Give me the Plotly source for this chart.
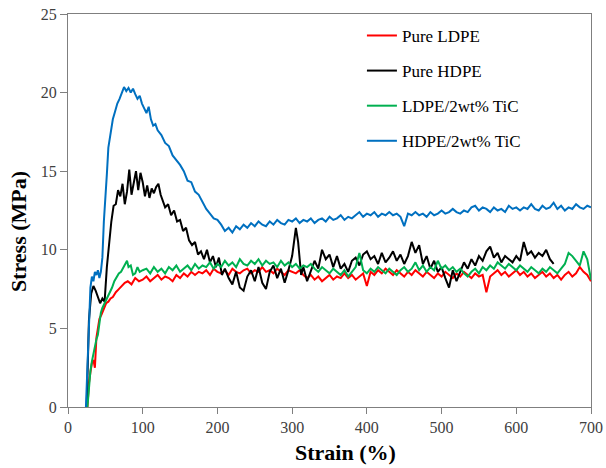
import plotly.graph_objects as go

# ---------------- data ----------------
# HDPE/2wt% TiC (blue)
hdpe_tic_x_head = [24, 27, 30, 32, 34, 36, 38, 40, 42, 44, 46, 48, 50, 52, 54, 56, 58, 60, 63, 66,
                   69, 72, 75, 78, 81, 84, 87, 90, 93, 96, 99, 102, 105, 108, 111, 114, 117, 120, 125, 130,
                   135, 140, 145, 150, 155, 160, 165, 170, 175, 180, 185, 190, 195, 200, 205, 210, 215, 220, 225, 230]
hdpe_tic_y_head = [0, 4.5, 7.6, 8.3, 8.0, 8.6, 8.4, 8.7, 8.2, 8.6, 9.5, 11.8, 13.8, 14.8, 16.5, 17.2, 17.6, 18.3, 18.8, 19.3,
                   19.6, 20.0, 20.35, 20.1, 20.3, 20.0, 20.25, 19.9, 19.6, 19.8, 19.3, 19.0, 18.7, 19.1, 18.3, 17.9, 18.0, 17.6, 17.3, 16.8,
                   16.6, 16.0, 15.7, 15.4, 15.0, 14.4, 14.3, 13.7, 13.5, 13.0, 12.6, 12.3, 12.0, 11.9, 11.6, 11.2, 11.4, 11.1, 11.5, 11.3]
hdpe_tic_y_tail = [11.6, 11.4, 11.7, 11.5, 11.8, 11.6, 11.5, 11.8, 11.6, 11.9,   # 235-280
                   11.7, 11.6, 11.9, 11.8, 12.0, 11.7, 11.9, 11.8, 12.0, 11.7,   # 285-330
                   11.9, 12.0, 11.8, 12.1, 11.9, 12.0, 12.2, 11.9, 12.1, 12.0,   # 335-380
                   12.2, 12.4, 12.1, 12.3, 12.2, 12.4, 12.1, 12.3, 12.2, 12.4,   # 385-430
                   12.2, 12.3, 12.1, 11.5, 12.3, 12.2, 12.4, 12.2, 12.3, 12.1,   # 435-480
                   12.4, 12.2, 12.3, 12.5, 12.3, 12.4, 12.6, 12.4, 12.3, 12.5,   # 485-530
                   12.4, 12.7, 12.8, 12.5, 12.7, 12.6, 12.4, 12.7, 12.5, 12.6,   # 535-580
                   12.4, 12.8, 12.6, 12.7, 12.5, 12.7, 12.6, 12.9, 12.6, 12.5,   # 585-630
                   12.8, 12.6, 12.7, 13.0, 12.6, 12.8, 12.5, 12.7, 12.6, 12.9,   # 635-680
                   12.7, 12.6, 12.8, 12.7]                                       # 685-700

# Pure HDPE (black)
hdpe_x_head = [25, 28, 31, 34, 37, 40, 43, 46, 49, 52, 55, 58, 61, 64, 67, 70, 73, 76, 79, 82,
               85, 88, 91, 94, 97, 100, 103, 106, 109, 112, 115, 118, 121, 124, 127, 130, 134, 138, 142, 146,
               150, 154, 158, 162, 166, 170, 174, 178, 182, 186, 190, 194, 198, 202, 206, 210, 215, 220, 225, 230,
               235, 240, 245, 250, 255, 260, 265, 270, 275, 280, 285, 290, 295, 300, 305, 308, 312]
hdpe_y_head = [0, 5.5, 7.2, 7.7, 7.4, 7.0, 6.6, 6.9, 6.7, 8.9, 10.5, 11.8, 12.8, 12.9, 13.8, 13.4, 14.2, 12.9, 13.7, 15.1,
               13.5, 14.3, 15.0, 13.8, 14.9, 14.3, 13.4, 14.1, 13.3, 13.9, 13.6, 14.0, 14.2, 13.5, 13.1, 12.7, 12.9, 12.2, 12.5, 11.8,
               11.9, 11.2, 11.4, 10.6, 10.3, 10.5, 9.7, 9.9, 9.4, 10.0, 9.2, 9.6, 8.9, 9.5, 8.4, 8.8, 8.2, 7.8, 8.6, 7.6,
               7.4, 8.3, 8.7, 8.0, 8.9, 7.9, 7.5, 8.6, 9.0, 8.2, 8.8, 7.9, 8.7, 9.6, 11.4, 10.5, 8.4]
hdpe_y_tail = [8.9, 8.0, 8.6, 9.3, 8.8, 10.0, 9.4, 9.7, 8.9, 9.6,   # 315-360
               8.8, 9.1, 8.6, 9.3, 9.5, 9.0, 9.7, 9.9, 9.4, 9.6,     # 365-410
               9.1, 9.8, 9.2, 9.5, 9.9, 9.3, 9.7, 9.1, 9.6, 10.5,    # 415-460
               9.8, 10.3, 9.1, 9.6, 8.8, 9.3, 8.6, 8.9, 8.2, 7.6,    # 465-510
               8.7, 8.0, 8.6, 9.2, 8.8, 9.4, 9.0, 9.6, 9.3, 9.9,     # 515-560
               10.2, 9.5, 9.8, 9.2, 9.6, 9.4, 9.2, 9.6, 9.3, 10.5,   # 565-610
               9.7, 9.9, 9.5, 9.8, 9.6, 10.0, 9.4, 9.1]              # 615-650

# LDPE/2wt% TiC (green)
ldpe_tic_x_head = [26, 28, 30, 32, 34, 36, 38, 40, 42, 44, 46, 48, 50, 53, 56, 59, 62, 65, 68, 71,
                   74, 77, 79, 81, 84, 87, 90, 93, 96, 100, 105]
ldpe_tic_y_head = [0, 1.5, 2.3, 2.9, 3.4, 3.8, 4.3, 4.6, 5.3, 6.0, 6.3, 6.5, 6.6, 6.9, 7.2, 7.6, 8.0, 8.3, 8.5, 8.6,
                   8.9, 9.2, 9.3, 8.9, 9.0, 8.4, 8.5, 8.9, 8.6, 8.7, 8.8]
ldpe_tic_y_tail = [8.5, 8.9, 8.6, 8.8, 8.5, 8.9, 8.7, 9.0, 8.6, 8.8,   # 110-155
                   9.0, 8.7, 9.1, 8.8, 9.0, 8.9, 9.2, 8.8, 9.1, 8.9,   # 160-205
                   9.3, 9.0, 9.2, 8.9, 9.4, 9.1, 9.0, 9.3, 9.1, 9.4,   # 210-255
                   9.0, 9.3, 9.1, 9.2, 8.9, 9.3, 9.0, 9.2, 8.9, 9.1,   # 260-305
                   8.8, 9.0, 8.9, 9.1, 8.8, 8.6, 8.9, 8.7, 8.5, 8.8,   # 310-355
                   8.6, 8.4, 8.7, 8.3, 8.6, 8.9, 9.8, 8.7, 8.5, 8.8,   # 360-405
                   8.6, 8.9, 8.7, 8.5, 8.8, 8.6, 8.4, 8.7, 8.9, 8.6,   # 410-455
                   8.8, 9.2, 8.7, 9.0, 8.6, 8.9, 8.7, 9.3, 8.8, 9.0,   # 460-505
                   8.7, 8.9, 8.6, 8.8, 8.5, 8.3, 8.6, 8.8, 8.5, 8.9,   # 510-555
                   8.7, 9.0, 8.8, 9.2, 9.0, 8.8, 9.1, 8.9, 8.7, 9.0,   # 560-605
                   8.8, 8.6, 8.9, 8.7, 8.5, 8.8, 8.6, 8.9, 8.7, 8.5,   # 610-655
                   8.8, 9.1, 9.8, 9.6, 9.3, 9.0, 9.9, 9.4, 8.1]        # 660-700

# Pure LDPE (red)
ldpe_x_head = [26, 28, 30, 32, 34, 36, 38, 40, 42, 45, 48, 51, 54, 57, 60, 64, 68, 72, 76, 80,
               85, 90, 95, 100]
ldpe_y_head = [0, 1.5, 2.2, 2.8, 3.0, 2.5, 4.4, 5.0, 5.6, 5.9, 6.3, 6.6, 6.7, 6.9, 7.0, 7.3, 7.5, 7.7, 7.9, 8.0,
               7.8, 8.2, 8.0, 8.1]
ldpe_y_tail = [8.3, 8.0, 8.2, 8.4, 8.1, 8.3, 8.2, 8.0, 8.4, 8.2,   # 105-150
               8.5, 8.3, 8.6, 8.4, 8.6, 8.5, 8.7, 8.4, 8.8, 8.6,   # 155-200
               8.5, 8.7, 8.4, 8.8, 8.6, 8.5, 8.7, 8.8, 8.5, 8.7,   # 205-250
               8.6, 8.9, 8.6, 8.7, 8.5, 8.8, 8.6, 8.4, 8.7, 8.6,   # 255-300
               8.5, 8.7, 8.4, 8.2, 8.4, 8.1, 8.3, 8.0, 8.2, 8.4,   # 305-350
               8.1, 8.3, 8.2, 8.5, 8.2, 8.4, 8.1, 8.3, 8.5, 7.7,   # 355-400
               8.6, 8.4, 8.7, 8.5, 8.8, 8.6, 8.4, 8.7, 8.5, 8.3,   # 405-450
               8.6, 8.4, 8.7, 8.5, 8.3, 8.6, 8.4, 8.2, 8.5, 8.3,   # 455-500
               8.6, 8.4, 8.2, 8.5, 8.3, 8.6, 8.4, 8.2, 8.5, 8.3,   # 505-550
               8.4, 7.3, 8.3, 8.5, 8.7, 8.4, 8.6, 8.3, 8.5, 8.7,   # 555-600
               8.4, 8.6, 8.3, 8.5, 8.2, 8.4, 8.6, 8.3, 8.5, 8.2,   # 605-650
               8.4, 8.1, 8.4, 8.6, 8.3, 8.5, 8.9, 8.6, 8.4, 8.0]   # 655-700

x_ticks = [0, 100, 200, 300, 400, 500, 600, 700]
y_ticks = [0, 5, 10, 15, 20, 25]


def build(x_head, y_head, y_tail, first_tail_x):
    xs = list(x_head) + list(range(first_tail_x, first_tail_x + 5 * len(y_tail), 5))
    ys = list(y_head) + list(y_tail)
    return xs, ys


series = [
    ("Pure LDPE", "#ff0000", build(ldpe_x_head, ldpe_y_head, ldpe_y_tail, 105)),
    ("Pure HDPE", "#000000", build(hdpe_x_head, hdpe_y_head, hdpe_y_tail, 315)),
    ("LDPE/2wt% TiC", "#00b050", build(ldpe_tic_x_head, ldpe_tic_y_head, ldpe_tic_y_tail, 110)),
    ("HDPE/2wt% TiC", "#0070c0", build(hdpe_tic_x_head, hdpe_tic_y_head, hdpe_tic_y_tail, 235)),
]

FONT = "Liberation Serif, Times New Roman, serif"

fig = go.Figure()
for name, color, (xs, ys) in series:
    fig.add_trace(go.Scatter(x=xs, y=ys, mode="lines", name=name, legendgroup=name,
                             line=dict(color=color, width=2)))

axis_common = dict(showgrid=False, zeroline=False, showline=True, linecolor="#7f7f7f",
                   linewidth=1.3, mirror=True, ticks="outside", tickcolor="#7f7f7f",
                   tickwidth=1.3, automargin=False,
                   tickfont=dict(family=FONT, size=16, color="#404040"))

fig.update_layout(
    width=606, height=468,
    margin=dict(l=68, r=15, t=14, b=61, autoexpand=False),
    paper_bgcolor="white", plot_bgcolor="white",
    xaxis=dict(range=[0, 700], tickvals=x_ticks, ticklen=6, **axis_common),
    yaxis=dict(range=[0, 25], tickvals=y_ticks, ticklen=7, **axis_common),
    legend=dict(x=0.562, y=0.99, xanchor="left", yanchor="top", bgcolor="rgba(0,0,0,0)",
                font=dict(family=FONT, size=17, color="#000000"), tracegroupgap=10,
                itemwidth=30),
    showlegend=True,
    annotations=[
        dict(text="<b>Strain (%)</b>", xref="paper", yref="paper", x=0.5306, y=-0.117,
             xanchor="center", yanchor="middle", showarrow=False,
             font=dict(family=FONT, size=22, color="#000000")),
        dict(text="<b>Stress (MPa)</b>", xref="paper", yref="paper", x=-0.0956, y=0.445,
             xanchor="center", yanchor="middle", showarrow=False, textangle=-90,
             font=dict(family=FONT, size=22, color="#000000")),
    ],
)

fig.write_html("out.html", config={"displayModeBar": False},
               post_script="document.body.style.margin='0';")
